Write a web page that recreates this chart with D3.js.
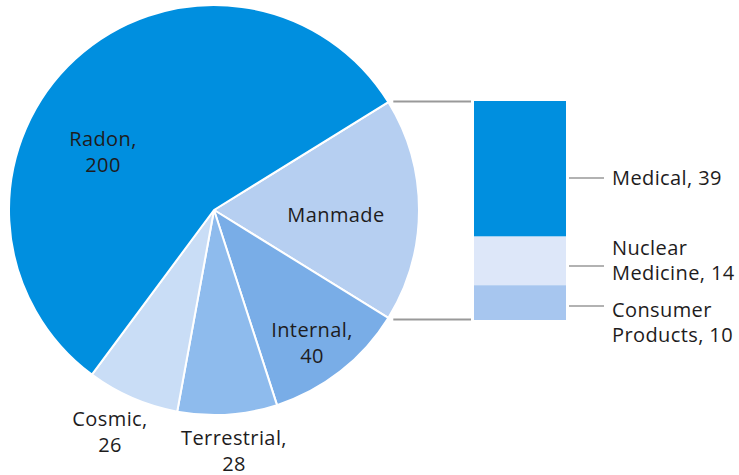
<!DOCTYPE html>
<html>
<head>
<meta charset="utf-8">
<script src="https://cdn.jsdelivr.net/npm/d3@7"></script>
<style>
  html, body { margin: 0; padding: 0; background: #fff; }
  svg text { font-family: "Open Sans", "Noto Sans", sans-serif; fill: #1e1c1d; letter-spacing: 0.4px; }
</style>
</head>
<body>
<svg id="chart" width="739" height="475"></svg>
<script>
// ---- data ----
const pieCategories = ["Manmade", "Internal", "Terrestrial", "Cosmic", "Radon"];
const pieValues = [63, 40, 28, 26, 200];
const pieLabels = [["Manmade"], ["Internal,", "40"], ["Terrestrial,", "28"], ["Cosmic,", "26"], ["Radon,", "200"]];
const barCategories = ["Medical", "Nuclear Medicine", "Consumer Products"];
const barValues = [39, 14, 10];
const barLabels = [["Medical, 39"], ["Nuclear", "Medicine, 14"], ["Consumer", "Products, 10"]];

// ---- styles ----
const pieColors = ["#b6cff1", "#79ade7", "#8ebbed", "#c9ddf6", "#008fdf"];
const barColors = ["#008fdf", "#dde7f9", "#a7c6ef"];

const svg = d3.select("#chart");
const cx = 214, cy = 210, r = 205;

const total = d3.sum(pieValues);
const half = pieValues[0] / total * Math.PI;
const pie = d3.pie().sort(null)
  .startAngle(Math.PI / 2 - half)
  .endAngle(Math.PI / 2 - half + 2 * Math.PI);
const arcs = pie(pieValues);
const arc = d3.arc().innerRadius(0).outerRadius(r);

const g = svg.append("g").attr("transform", `translate(${cx},${cy})`);
g.selectAll("path").data(arcs).join("path")
  .attr("d", arc)
  .attr("fill", (d, i) => pieColors[i])
  .attr("stroke", "#fff")
  .attr("stroke-width", 2)
  .attr("stroke-linejoin", "round");

// pie labels (center x, first baseline)
const pieLabelPos = [[336, 222], [312, 337], [234, 445], [110, 426], [103, 146]];
pieLabels.forEach((lines, i) => {
  const t = svg.append("text").attr("text-anchor", "middle").attr("font-size", 20);
  lines.forEach((s, j) => {
    t.append("tspan").attr("x", pieLabelPos[i][0]).attr("y", pieLabelPos[i][1] + j * 25.5).text(s);
  });
});

// stacked bar
const barX = 474, barW = 92, barTop = 101, barBottom = 320;
const y = d3.scaleLinear().domain([0, d3.sum(barValues)]).range([barTop, barBottom]);
let cum = 0;
const stacks = barValues.map(v => { const s = { y0: cum, y1: cum + v }; cum += v; return s; });
svg.selectAll("rect.bar").data(stacks).join("rect")
  .attr("class", "bar")
  .attr("x", barX).attr("width", barW)
  .attr("y", d => y(d.y0))
  .attr("height", d => y(d.y1) - y(d.y0))
  .attr("fill", (d, i) => barColors[i]);

// connector lines from pie to bar
const a0 = arcs[0].startAngle, a1 = arcs[0].endAngle;
const p0 = [cx + r * Math.sin(a0), cy - r * Math.cos(a0)];
const p1 = [cx + r * Math.sin(a1), cy - r * Math.cos(a1)];
[[p0[0] + 5, y(0) + 0.5], [p1[0] + 5, y(cum) - 0.5]].forEach(p => {
  svg.append("line")
    .attr("x1", p[0]).attr("x2", barX - 3)
    .attr("y1", p[1]).attr("y2", p[1])
    .attr("stroke", "#999").attr("stroke-width", 2);
});

// bar labels with leader lines
const leaderY = [178, 266, 306];
const labelY = [185, 255, 317];
barLabels.forEach((lines, i) => {
  svg.append("line")
    .attr("x1", barX + barW + 3).attr("x2", 604)
    .attr("y1", leaderY[i]).attr("y2", leaderY[i])
    .attr("stroke", "#999").attr("stroke-width", 1.5);
  const t = svg.append("text").attr("font-size", 20);
  lines.forEach((s, j) => {
    t.append("tspan").attr("x", 612).attr("y", labelY[i] + j * 25).text(s);
  });
});
</script>
</body>
</html>
